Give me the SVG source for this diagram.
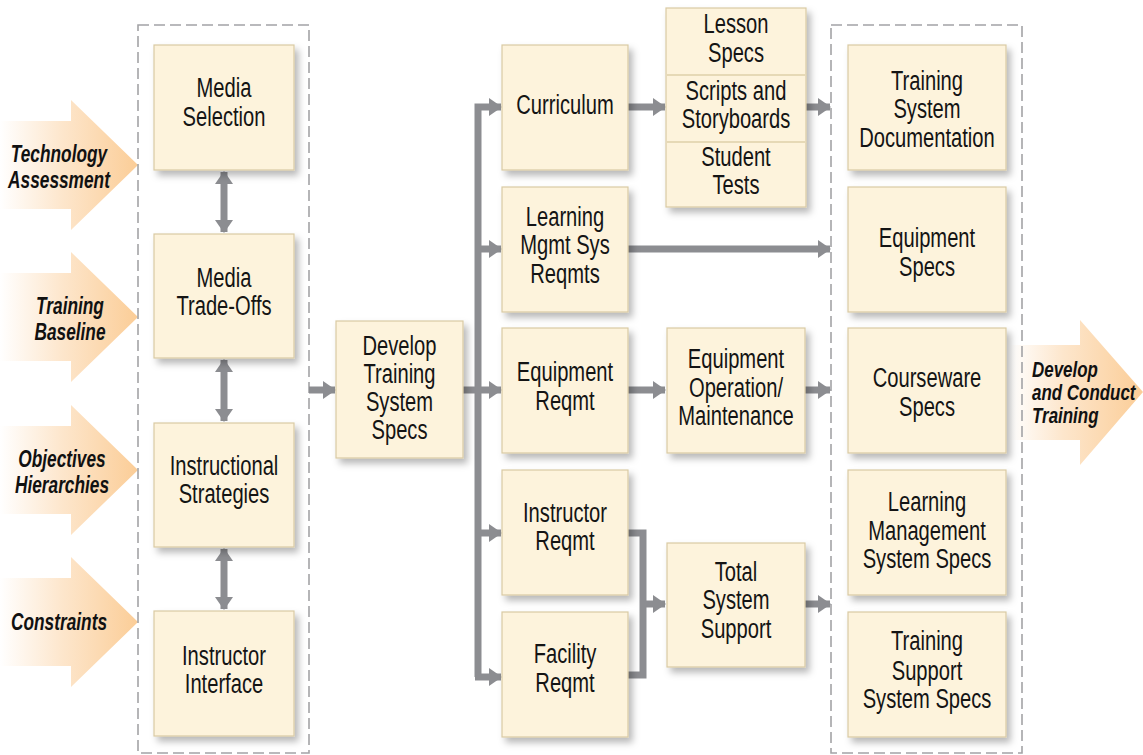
<svg xmlns="http://www.w3.org/2000/svg" width="1143" height="755" viewBox="0 0 1143 755">
  <style>
    .box { fill: #fdf3dc; stroke: #d9caa3; stroke-width: 1.2; filter: url(#shadow); }
    .frame { fill: none; stroke: #a3a3a6; stroke-width: 1.6; stroke-dasharray: 11 5; }
    .t { font-family: "Liberation Sans", Arial, sans-serif; font-size: 28px; fill: #141414; text-anchor: middle; }
    .in { font-family: "Liberation Sans", Arial, sans-serif; font-size: 24px; font-weight: bold; font-style: italic; fill: #111; text-anchor: middle; }
    .out { font-family: "Liberation Sans", Arial, sans-serif; font-size: 22px; font-weight: bold; font-style: italic; fill: #111; }
    .wire { fill: none; stroke: #8c8d91; stroke-width: 7; }
    .div { stroke: #e6d9b6; stroke-width: 2; }
  </style>
  <defs>
    <filter id="shadow" x="-20%" y="-20%" width="150%" height="150%">
      <feDropShadow dx="4" dy="5" stdDeviation="3.5" flood-color="#000" flood-opacity="0.28"/>
    </filter>
    <linearGradient id="inGrad" gradientUnits="userSpaceOnUse" x1="0" y1="0" x2="138" y2="0">
      <stop offset="0" stop-color="#ffffff"/>
      <stop offset="0.45" stop-color="#fde6cc"/>
      <stop offset="1" stop-color="#fbcd97"/>
    </linearGradient>
    <linearGradient id="outGrad" gradientUnits="userSpaceOnUse" x1="1010" y1="0" x2="1143" y2="0">
      <stop offset="0" stop-color="#ffffff"/>
      <stop offset="0.4" stop-color="#fde6cc"/>
      <stop offset="1" stop-color="#fbcd97"/>
    </linearGradient>
    <marker id="head" markerUnits="userSpaceOnUse" markerWidth="14" markerHeight="18" refX="12" refY="9" orient="auto-start-reverse" viewBox="0 0 14 18">
      <path d="M0,0 L13,9 L0,18 z" fill="#8c8d91"/>
    </marker>
  </defs>

  <!-- input arrows -->
  <g id="in-technology-assessment">
    <path d="M0,121 H71 V100 L138,165 L71,230 V209 H0 z" fill="url(#inGrad)"/>
    <text class="in" transform="translate(59,0) scale(0.72,1)"><tspan x="0" y="162">Technology</tspan><tspan x="0" y="188">Assessment</tspan></text>
  </g>
  <g id="in-training-baseline">
    <path d="M0,273 H71 V252 L138,317 L71,382 V361 H0 z" fill="url(#inGrad)"/>
    <text class="in" transform="translate(70,0) scale(0.72,1)"><tspan x="0" y="314">Training</tspan><tspan x="0" y="340">Baseline</tspan></text>
  </g>
  <g id="in-objectives-hierarchies">
    <path d="M0,426 H71 V405 L138,470 L71,535 V514 H0 z" fill="url(#inGrad)"/>
    <text class="in" transform="translate(62,0) scale(0.72,1)"><tspan x="0" y="467">Objectives</tspan><tspan x="0" y="493">Hierarchies</tspan></text>
  </g>
  <g id="in-constraints">
    <path d="M0,578 H71 V557 L138,622 L71,687 V666 H0 z" fill="url(#inGrad)"/>
    <text class="in" transform="translate(59,0) scale(0.72,1)"><tspan x="0" y="630">Constraints</tspan></text>
  </g>

  <!-- output arrow -->
  <g id="out-develop-conduct">
    <path d="M1010,345 H1080 V320 L1143,392 L1080,465 V440 H1010 z" fill="url(#outGrad)"/>
    <text class="out" transform="translate(1032,0) scale(0.77,1)"><tspan x="0" y="377">Develop</tspan><tspan x="0" y="400">and Conduct</tspan><tspan x="0" y="423">Training</tspan></text>
  </g>

  <!-- dashed group frames -->
  <rect id="frame-left" class="frame" x="138" y="25" width="171" height="728"/>
  <rect id="frame-right" class="frame" x="831" y="25" width="191" height="728"/>

  <!-- connectors -->
  <g id="connectors">
    <line class="wire" x1="224" y1="172" x2="224" y2="232" marker-start="url(#head)" marker-end="url(#head)"/>
    <line class="wire" x1="224" y1="360" x2="224" y2="421" marker-start="url(#head)" marker-end="url(#head)"/>
    <line class="wire" x1="224" y1="549" x2="224" y2="609" marker-start="url(#head)" marker-end="url(#head)"/>
    <line class="wire" x1="309" y1="390" x2="335" y2="390" marker-end="url(#head)"/>
    <line class="wire" x1="463" y1="390" x2="478" y2="390"/>
    <path class="wire" d="M478,677 V107 H501" marker-end="url(#head)"/>
    <line class="wire" x1="478" y1="249" x2="501" y2="249" marker-end="url(#head)"/>
    <line class="wire" x1="478" y1="390" x2="501" y2="390" marker-end="url(#head)"/>
    <line class="wire" x1="478" y1="533" x2="501" y2="533" marker-end="url(#head)"/>
    <line class="wire" x1="475" y1="677" x2="501" y2="677" marker-end="url(#head)"/>
    <line class="wire" x1="628" y1="107" x2="665" y2="107" marker-end="url(#head)"/>
    <line class="wire" x1="806" y1="107" x2="830" y2="107" marker-end="url(#head)"/>
    <line class="wire" x1="628" y1="249" x2="830" y2="249" marker-end="url(#head)"/>
    <line class="wire" x1="628" y1="390" x2="665" y2="390" marker-end="url(#head)"/>
    <line class="wire" x1="805" y1="390" x2="830" y2="390" marker-end="url(#head)"/>
    <path class="wire" d="M628,533 H643 V675 H628"/>
    <line class="wire" x1="643" y1="604" x2="665" y2="604" marker-end="url(#head)"/>
    <line class="wire" x1="805" y1="604" x2="830" y2="604" marker-end="url(#head)"/>
  </g>

  <!-- left column -->
  <g id="media-selection">
    <rect class="box" x="154" y="45" width="140" height="125"/>
    <text class="t" transform="translate(224,0) scale(0.72,1)"><tspan x="0" y="97">Media</tspan><tspan x="0" y="126">Selection</tspan></text>
  </g>
  <g id="media-trade-offs">
    <rect class="box" x="154" y="234" width="140" height="124"/>
    <text class="t" transform="translate(224,0) scale(0.72,1)"><tspan x="0" y="287">Media</tspan><tspan x="0" y="315">Trade-Offs</tspan></text>
  </g>
  <g id="instructional-strategies">
    <rect class="box" x="154" y="423" width="140" height="124"/>
    <text class="t" transform="translate(224,0) scale(0.72,1)"><tspan x="0" y="475">Instructional</tspan><tspan x="0" y="503">Strategies</tspan></text>
  </g>
  <g id="instructor-interface">
    <rect class="box" x="154" y="611" width="140" height="125"/>
    <text class="t" transform="translate(224,0) scale(0.72,1)"><tspan x="0" y="665">Instructor</tspan><tspan x="0" y="693">Interface</tspan></text>
  </g>

  <!-- central spec node -->
  <g id="develop-training-system-specs">
    <rect class="box" x="336" y="321" width="127" height="137"/>
    <text class="t" transform="translate(399.5,0) scale(0.72,1)"><tspan x="0" y="355">Develop</tspan><tspan x="0" y="383">Training</tspan><tspan x="0" y="411">System</tspan><tspan x="0" y="439">Specs</tspan></text>
  </g>

  <!-- requirement column -->
  <g id="curriculum">
    <rect class="box" x="502" y="45" width="126" height="125"/>
    <text class="t" transform="translate(565,0) scale(0.72,1)"><tspan x="0" y="114">Curriculum</tspan></text>
  </g>
  <g id="lms-reqmts">
    <rect class="box" x="502" y="187" width="126" height="125"/>
    <text class="t" transform="translate(565,0) scale(0.72,1)"><tspan x="0" y="226">Learning</tspan><tspan x="0" y="254">Mgmt Sys</tspan><tspan x="0" y="283">Reqmts</tspan></text>
  </g>
  <g id="equipment-reqmt">
    <rect class="box" x="502" y="328" width="126" height="125"/>
    <text class="t" transform="translate(565,0) scale(0.72,1)"><tspan x="0" y="381">Equipment</tspan><tspan x="0" y="410">Reqmt</tspan></text>
  </g>
  <g id="instructor-reqmt">
    <rect class="box" x="502" y="470" width="126" height="125"/>
    <text class="t" transform="translate(565,0) scale(0.72,1)"><tspan x="0" y="522">Instructor</tspan><tspan x="0" y="550">Reqmt</tspan></text>
  </g>
  <g id="facility-reqmt">
    <rect class="box" x="502" y="612" width="126" height="125"/>
    <text class="t" transform="translate(565,0) scale(0.72,1)"><tspan x="0" y="663">Facility</tspan><tspan x="0" y="692">Reqmt</tspan></text>
  </g>

  <!-- derived products -->
  <g id="lesson-stack">
    <rect class="box" x="666" y="8" width="140" height="199"/>
    <line class="div" x1="667" y1="75" x2="805" y2="75"/>
    <line class="div" x1="667" y1="142" x2="805" y2="142"/>
    <text class="t" transform="translate(736,0) scale(0.72,1)"><tspan x="0" y="33">Lesson</tspan><tspan x="0" y="62">Specs</tspan><tspan x="0" y="100">Scripts and</tspan><tspan x="0" y="128">Storyboards</tspan><tspan x="0" y="166">Student</tspan><tspan x="0" y="194">Tests</tspan></text>
  </g>
  <g id="equipment-operation">
    <rect class="box" x="667" y="328" width="138" height="125"/>
    <text class="t" transform="translate(736,0) scale(0.72,1)"><tspan x="0" y="368">Equipment</tspan><tspan x="0" y="397">Operation/</tspan><tspan x="0" y="425">Maintenance</tspan></text>
  </g>
  <g id="total-system-support">
    <rect class="box" x="667" y="543" width="138" height="124"/>
    <text class="t" transform="translate(736,0) scale(0.72,1)"><tspan x="0" y="581">Total</tspan><tspan x="0" y="609.5">System</tspan><tspan x="0" y="638">Support</tspan></text>
  </g>

  <!-- output specs column -->
  <g id="training-system-documentation">
    <rect class="box" x="848" y="45" width="158" height="125"/>
    <text class="t" transform="translate(927,0) scale(0.72,1)"><tspan x="0" y="90">Training</tspan><tspan x="0" y="118">System</tspan><tspan x="0" y="147">Documentation</tspan></text>
  </g>
  <g id="equipment-specs">
    <rect class="box" x="848" y="187" width="158" height="125"/>
    <text class="t" transform="translate(927,0) scale(0.72,1)"><tspan x="0" y="247">Equipment</tspan><tspan x="0" y="276">Specs</tspan></text>
  </g>
  <g id="courseware-specs">
    <rect class="box" x="848" y="328" width="158" height="125"/>
    <text class="t" transform="translate(927,0) scale(0.72,1)"><tspan x="0" y="387">Courseware</tspan><tspan x="0" y="416">Specs</tspan></text>
  </g>
  <g id="lms-specs">
    <rect class="box" x="848" y="470" width="158" height="125"/>
    <text class="t" transform="translate(927,0) scale(0.72,1)"><tspan x="0" y="511">Learning</tspan><tspan x="0" y="540">Management</tspan><tspan x="0" y="568">System Specs</tspan></text>
  </g>
  <g id="training-support-system-specs">
    <rect class="box" x="848" y="612" width="158" height="125"/>
    <text class="t" transform="translate(927,0) scale(0.72,1)"><tspan x="0" y="650">Training</tspan><tspan x="0" y="680">Support</tspan><tspan x="0" y="708">System Specs</tspan></text>
  </g>
</svg>
